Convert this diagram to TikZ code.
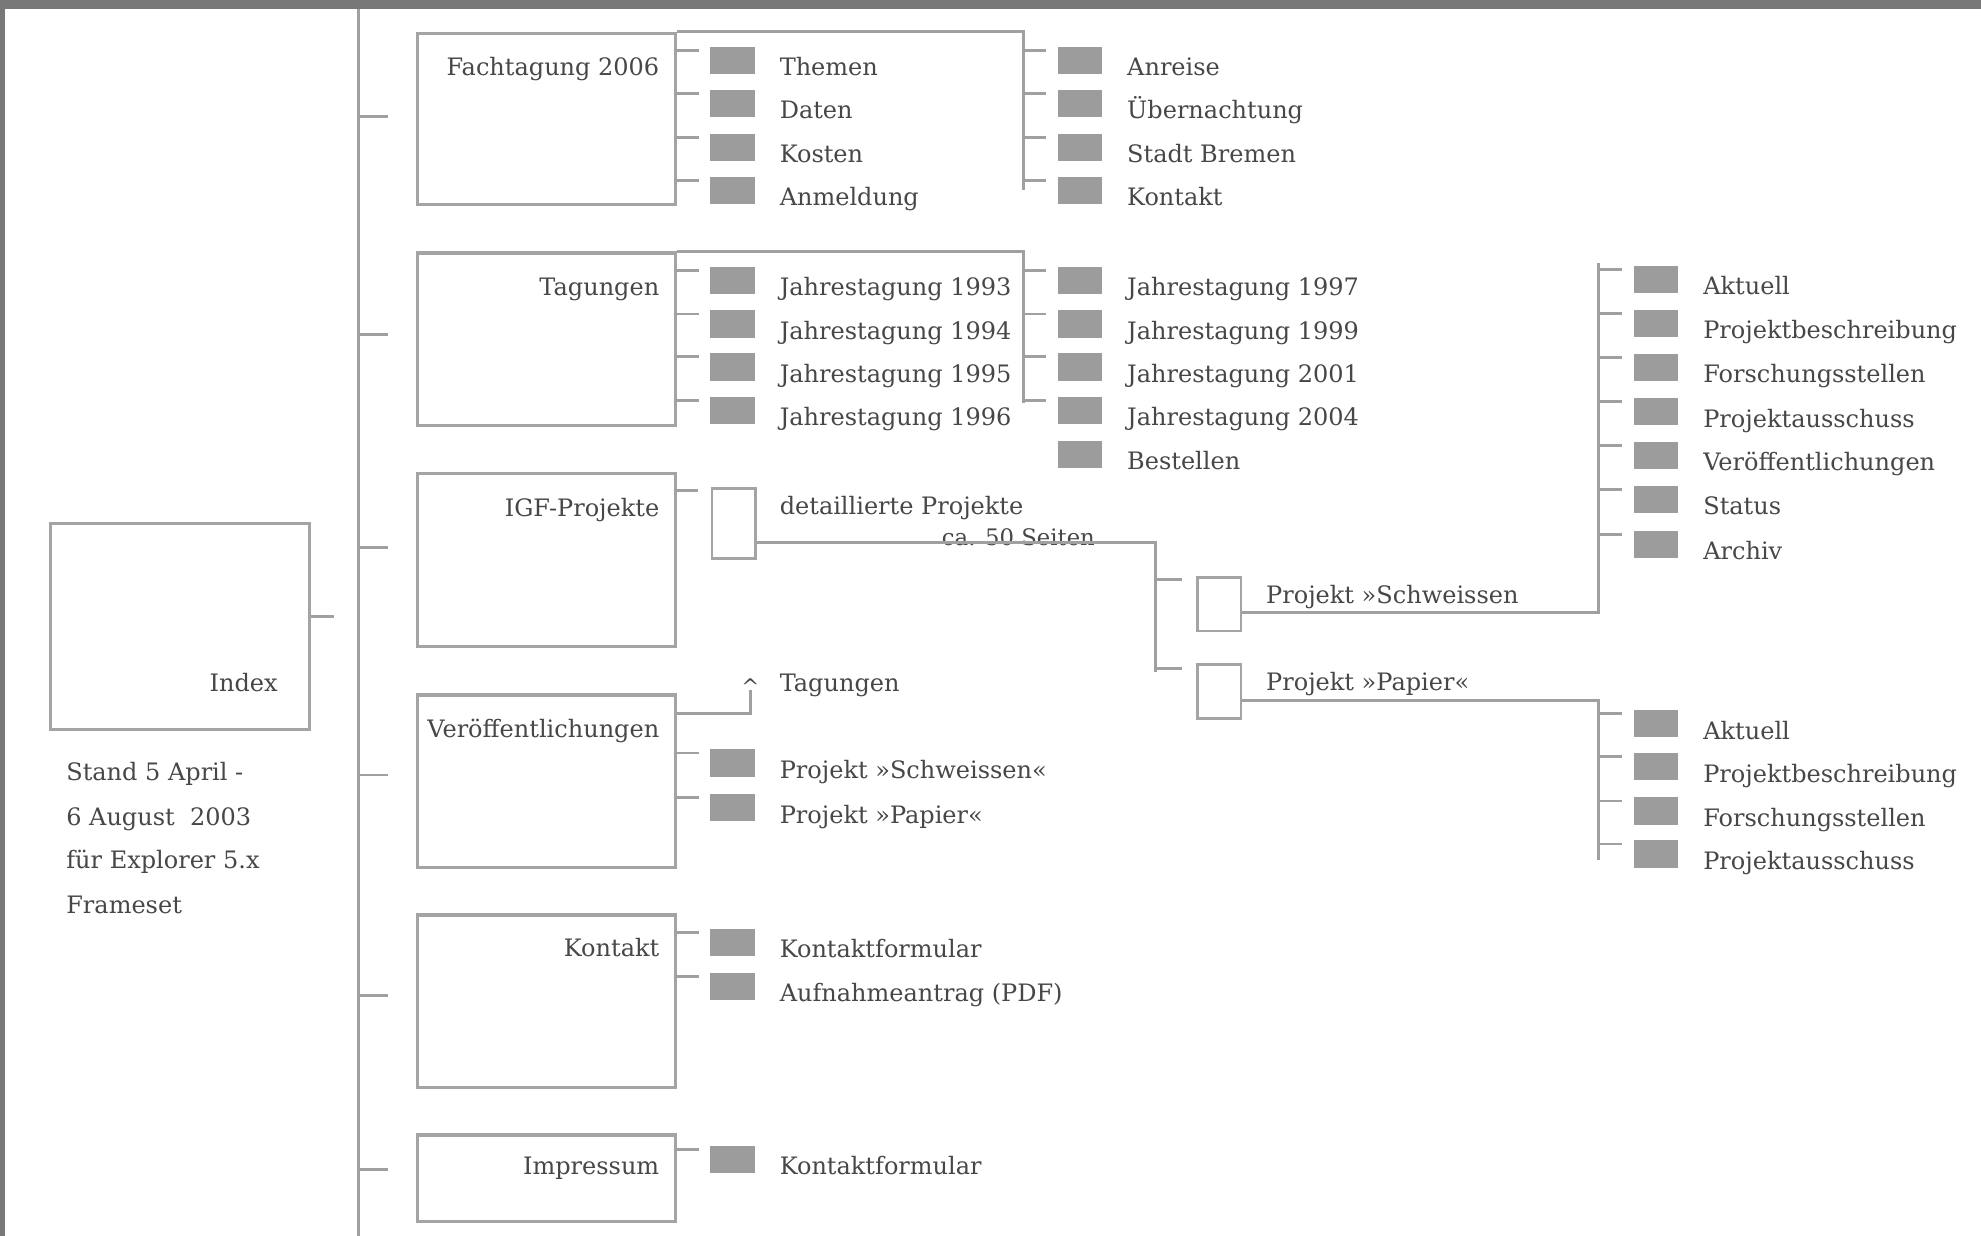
\documentclass[tikz,border=0pt]{standalone}
\usepackage{fontspec}
\setmainfont{DejaVu Serif}
\definecolor{band}{HTML}{787878}
\definecolor{linegray}{HTML}{A0A0A0}
\definecolor{boxgray}{HTML}{A4A4A4}
\definecolor{sqgray}{HTML}{9C9C9C}
\definecolor{txt}{HTML}{474747}
% row with square and text, no tick: name, square-left x, baseline y, text
\newcommand{\prow}[4]{%
  \node[sq, anchor=north west] (#1-sq) at (#2,#3-23) {};
  \node[lbl, anchor=base west] (#1-tx) at (#2+55,#3) {#4};
}
% row with tick
\newcommand{\trow}[4]{%
  \coordinate (#1-ta) at (#2-28,#3-20);
  \coordinate (#1-tb) at (#2-9,#3-20);
  \draw[conn] (#1-ta) -- (#1-tb);
  \prow{#1}{#2}{#3}{#4}%
}
\begin{document}
\begin{tikzpicture}[x=1pt,y=-1pt,
  conn/.style={draw=linegray, line width=2.3pt},
  bigbox/.style={draw=boxgray, line width=2.6pt, fill=white, inner sep=0pt, anchor=north west, minimum width=204.5pt},
  smallbox/.style={draw=boxgray, line width=2pt, fill=white, inner sep=0pt, anchor=north west, minimum width=34.6pt},
  sq/.style={fill=sqgray, inner sep=0pt, minimum width=35pt, minimum height=21.5pt},
  lbl/.style={text=txt, font=\fontsize{19}{22}\selectfont, inner sep=0pt},
]
\useasboundingbox (0,0) rectangle (1568,978);
\fill[white] (0,0) rectangle (1568,978);
\fill[band] (0,0) rectangle (1568,7);
\fill[band] (0,0) rectangle (4,978);

% main vertical line
\coordinate (mtop) at (284,7);
\coordinate (mbot) at (284,978);
\draw[conn] (mtop) -- (mbot);
\foreach \n/\y in {1/92.4,2/264.6,3/433,4/613.4,5/788,6/925.5}{
  \coordinate (mt\n a) at (284,\y);
  \coordinate (mt\n b) at (307,\y);
  \draw[conn] (mt\n a) -- (mt\n b);
}

% index
\node[bigbox, minimum width=205pt, minimum height=163pt] (index) at (38.8,413) {};
\node[lbl, anchor=base east] (index-l) at (220,547.5) {Index};
\coordinate (ixt) at (264.3,488);
\draw[conn] (index.east |- ixt) -- (ixt);
\node[lbl, anchor=base west] (n1) at (52.3,617.4) {Stand 5 April -};
\node[lbl, anchor=base west] (n2) at (52.3,653) {6 August\ \ 2003};
\node[lbl, anchor=base west] (n3) at (52.3,687.3) {für Explorer 5.x};
\node[lbl, anchor=base west] (n4) at (52.3,723) {Frameset};

% boxes
\node[bigbox, minimum height=135.5pt] (fach) at (329,25) {};
\node[bigbox, minimum height=136.6pt] (tag) at (329,199) {};
\node[bigbox, minimum height=137.2pt] (igf) at (329,373.3) {};
\node[bigbox, minimum height=136.6pt] (veroff) at (329,548.8) {};
\node[bigbox, minimum height=136.6pt] (kontakt) at (329,723) {};
\node[bigbox, minimum height=68.6pt] (impr) at (329,897) {};
\node[lbl, anchor=base east] (fach-l) at (522,60) {Fachtagung 2006};
\node[lbl, anchor=base east] (tag-l) at (522,233.5) {Tagungen};
\node[lbl, anchor=base east] (igf-l) at (522,409) {IGF-Projekte};
\node[lbl, anchor=base east] (veroff-l) at (522,583.6) {Veröffentlichungen};
\node[lbl, anchor=base east] (kontakt-l) at (522,756.7) {Kontakt};
\node[lbl, anchor=base east] (impr-l) at (522,930) {Impressum};

% Fachtagung
\coordinate (fc2t) at (810,25);
\coordinate (fc2b) at (810,150);
\draw[conn] (fach.north east) -- (fc2t) -- (fc2b);
\trow{f1}{562}{60}{Themen}
\trow{f2}{562}{94}{Daten}
\trow{f3}{562}{129}{Kosten}
\trow{f4}{562}{163}{Anmeldung}
\trow{g1}{837}{60}{Anreise}
\trow{g2}{837}{94}{Übernachtung}
\trow{g3}{837}{129}{Stadt Bremen}
\trow{g4}{837}{163}{Kontakt}

% Tagungen
\coordinate (tc2t) at (810,199);
\coordinate (tc2b) at (810,319);
\draw[conn] (tag.north east) -- (tc2t) -- (tc2b);
\trow{t1}{562}{234}{Jahrestagung 1993}
\trow{t2}{562}{268.5}{Jahrestagung 1994}
\trow{t3}{562}{302.5}{Jahrestagung 1995}
\trow{t4}{562}{337}{Jahrestagung 1996}
\trow{u1}{837}{234}{Jahrestagung 1997}
\trow{u2}{837}{268.5}{Jahrestagung 1999}
\trow{u3}{837}{302.5}{Jahrestagung 2001}
\trow{u4}{837}{337}{Jahrestagung 2004}
\prow{u5}{837}{372}{Bestellen}

% IGF-Projekte
\coordinate (igt-a) at (533.5,388.4);
\coordinate (igt-b) at (552.5,388.4);
\draw[conn] (igt-a) -- (igt-b);
\node[smallbox, minimum height=55.3pt] (det) at (562.5,385.7) {};
\node[lbl, anchor=base west] (det-l) at (617,407.6) {detaillierte Projekte};
\node[lbl, anchor=base west, font=\fontsize{18}{21}\selectfont] (ca) at (745.4,432) {ca. 50 Seiten};
\coordinate (detj) at (914.7,429.5);
\coordinate (detv) at (914.7,531.6);
\draw[conn] (det.east |- detj) -- (detj) -- (detv);
\coordinate (sj-a) at (914.7,458.5);
\coordinate (sj-b) at (935.5,458.5);
\coordinate (pj-a) at (914.7,529);
\coordinate (pj-b) at (935.5,529);
\draw[conn] (sj-a) -- (sj-b);
\draw[conn] (pj-a) -- (pj-b);
\node[smallbox, minimum height=42.6pt] (schw) at (946.7,456) {};
\node[smallbox, minimum height=42.8pt] (pap) at (946.7,525) {};
\node[lbl, anchor=base west] (schw-l) at (1002,477.5) {Projekt »Schweissen};
\node[lbl, anchor=base west] (pap-l) at (1002,546.7) {Projekt »Papier«};
\coordinate (sc3b) at (1265.5,484.7);
\coordinate (sc3t) at (1265.5,208.4);
\draw[conn] (schw.east |- sc3b) -- (sc3b) -- (sc3t);
\coordinate (pc3t) at (1265.5,554.6);
\coordinate (pc3b) at (1265.5,681);
\draw[conn] (pap.east |- pc3t) -- (pc3t) -- (pc3b);
\trow{s1}{1293}{233}{Aktuell}
\trow{s2}{1293}{268}{Projektbeschreibung}
\trow{s3}{1293}{303}{Forschungsstellen}
\trow{s4}{1293}{338}{Projektausschuss}
\trow{s5}{1293}{372.5}{Veröffentlichungen}
\trow{s6}{1293}{407.5}{Status}
\trow{s7}{1293}{443}{Archiv}
\trow{p1}{1293}{585}{Aktuell}
\trow{p2}{1293}{619}{Projektbeschreibung}
\trow{p3}{1293}{654}{Forschungsstellen}
\trow{p4}{1293}{688}{Projektausschuss}

% Veroeffentlichungen
\coordinate (vcj) at (594,564.6);
\coordinate (vct) at (594,546);
\draw[conn] (veroff.east |- vcj) -- (vcj) -- (vct);
\node[text=txt, font=\fontsize{17}{19}\selectfont, inner sep=0pt, anchor=base] (caret) at (594,550) {\textasciicircum};
\node[lbl, anchor=base west] (vt-l) at (617,547.5) {Tagungen};
\trow{v1}{562}{616}{Projekt »Schweissen«}
\trow{v2}{562}{651.5}{Projekt »Papier«}

% Kontakt
\trow{k1}{562}{758}{Kontaktformular}
\trow{k2}{562}{793}{Aufnahmeantrag (PDF)}

% Impressum
\trow{i1}{562}{930}{Kontaktformular}
\end{tikzpicture}
\end{document}
